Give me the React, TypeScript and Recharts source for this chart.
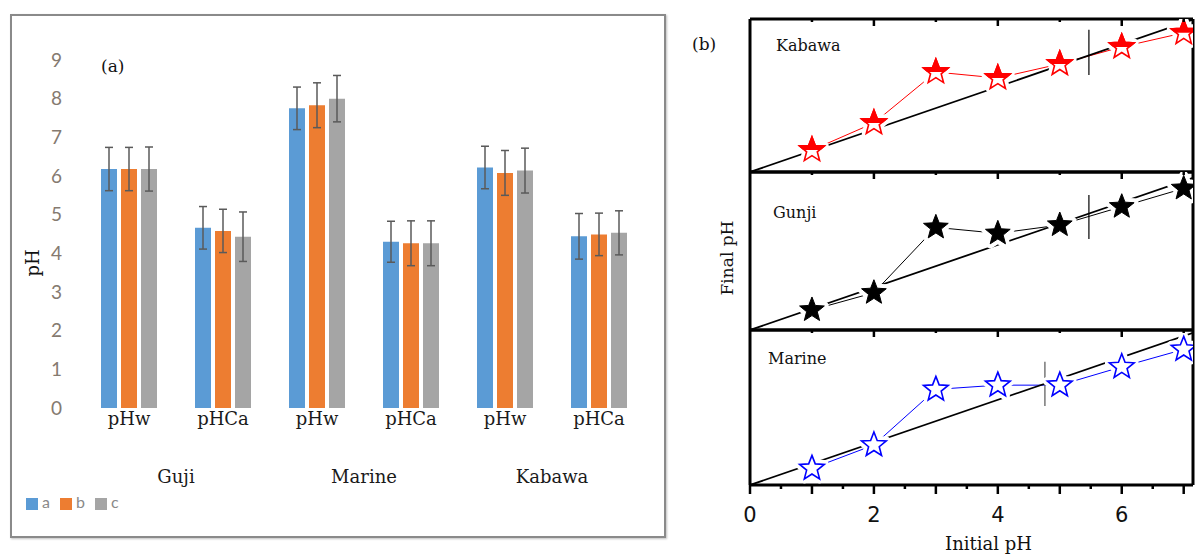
import React from 'react';
import {
  BarChart,
  Bar,
  XAxis,
  YAxis,
  ErrorBar,
  Legend,
  ComposedChart,
  Line,
  ReferenceLine,
} from 'recharts';

// ---------- Panel (a) data ----------
const categories = ['pHw', 'pHCa', 'pHw', 'pHCa', 'pHw', 'pHCa'];
const groupNames = ['Guji', 'Marine', 'Kabawa'];
const valuesA = [6.18, 4.66, 7.75, 4.3, 6.22, 4.44];
const errorsA = [0.56, 0.55, 0.55, 0.53, 0.55, 0.59];
const valuesB = [6.18, 4.58, 7.83, 4.26, 6.08, 4.49];
const errorsB = [0.56, 0.56, 0.58, 0.58, 0.58, 0.55];
const valuesC = [6.18, 4.43, 8.0, 4.26, 6.14, 4.53];
const errorsC = [0.57, 0.64, 0.6, 0.58, 0.58, 0.57];
const yTicksA = [0, 1, 2, 3, 4, 5, 6, 7, 8, 9];
const groupTicks = [0.5, 2.5, 4.5];

// ---------- Panel (b) data ----------
const initialPH = [1, 2, 3, 4, 5, 6, 7];
const kabawaFinal = [1.03, 2.3, 4.69, 4.41, 5.07, 5.87, 6.53];
const gunjiFinal = [0.94, 1.75, 4.82, 4.54, 4.93, 5.79, 6.65];
const marineFinal = [0.78, 1.88, 4.49, 4.69, 4.69, 5.55, 6.37];
const xMaxB = 7.15;
const bottomTicks = [0, 0.5, 1, 1.5, 2, 2.5, 3, 3.5, 4, 4.5, 5, 5.5, 6, 6.5, 7];
const topTicks = [1, 2, 3, 4, 5, 6, 7];

const barData = categories.map((c, i) => ({
  idx: i,
  cat: c,
  a: valuesA[i],
  ea: errorsA[i],
  b: valuesB[i],
  eb: errorsB[i],
  c: valuesC[i],
  ec: errorsC[i],
}));

const BLUE = '#5B9BD5';
const ORANGE = '#ED7D31';
const GRAY = '#A5A5A5';
const SERIF = '"DejaVu Serif", "Liberation Serif", serif';

function starPath(cx: number, cy: number, R: number, r: number) {
  const pts: string[] = [];
  for (let k = 0; k < 10; k++) {
    const ang = ((-90 + k * 36) * Math.PI) / 180;
    const rad = k % 2 === 0 ? R : r;
    pts.push(`${(cx + rad * Math.cos(ang)).toFixed(2)},${(cy + rad * Math.sin(ang)).toFixed(2)}`);
  }
  return `M${pts.join('L')}Z`;
}

const STAR_R = 13;
const STAR_r = 5.6;

function makeDot(kind: 'half' | 'filled' | 'open', color: string, prefix: string) {
  return (props: any) => {
    const { cx, cy, index } = props;
    if (cx == null || cy == null) return <g key={`${prefix}-${index}`} />;
    const d = starPath(cx, cy, STAR_R, STAR_r);
    const clipId = `${prefix}-clip-${index}`;
    return (
      <g key={`${prefix}-${index}`}>
        <path d={d} fill="#fff" stroke="#fff" strokeWidth={9} strokeLinejoin="round" />
        {kind === 'half' && (
          <>
            <defs>
              <clipPath id={clipId}>
                <rect x={cx - STAR_R - 3} y={cy - STAR_R - 3} width={2 * STAR_R + 6} height={STAR_R + 3} />
              </clipPath>
            </defs>
            <path d={d} fill="#fff" stroke={color} strokeWidth={1.6} />
            <path d={d} fill={color} stroke={color} strokeWidth={1.6} clipPath={`url(#${clipId})`} />
          </>
        )}
        {kind === 'filled' && <path d={d} fill={color} stroke={color} strokeWidth={1} />}
        {kind === 'open' && <path d={d} fill="#fff" stroke={color} strokeWidth={1.6} />}
      </g>
    );
  };
}

const BottomTick = (props: any) => {
  const { x, y, payload } = props;
  const v = payload.value as number;
  const major = Number.isInteger(v);
  return (
    <g>
      <line x1={x} x2={x} y1={y} y2={y + (major ? 9 : 4)} stroke="#000" strokeWidth={2.5} />
      {major && v % 2 === 0 && (
        <text
          x={x}
          y={y + 37}
          textAnchor="middle"
          fontSize={21}
          fontFamily='"DejaVu Sans", sans-serif'
          fill="#111"
        >
          {v}
        </text>
      )}
    </g>
  );
};

const TopTick = (props: any) => {
  const { x, y, payload } = props;
  const v = payload.value as number;
  const major = v % 2 === 0;
  return <line x1={x} x2={x} y1={y} y2={y + (major ? 7 : 3)} stroke="#000" strokeWidth={2.5} />;
};

type PanelProps = {
  top: number;
  plotH: number;
  yMax: number;
  values: number[];
  color: string;
  kind: 'half' | 'filled' | 'open';
  refX: number;
  refLow: number;
  refHigh: number;
  refColor: string;
  showBottom: boolean;
  id: string;
};

function Panel(p: PanelProps) {
  const data = initialPH.map((x, i) => ({ x, y: p.values[i] }));
  const diag = [
    { x: 0, y: 0 },
    { x: xMaxB, y: xMaxB },
  ];
  const bottomH = p.showBottom ? 70 : 1;
  const height = 5 + p.plotH + bottomH + (p.showBottom ? 0 : 4);
  const frame = { stroke: '#000', strokeWidth: 3 };
  return (
    <div style={{ position: 'absolute', left: 730, top: p.top - 5 }}>
      <ComposedChart
        width={468}
        height={height}
        margin={{ top: 4, right: 4, bottom: p.showBottom ? 0 : 4, left: 19 }}
      >
        <XAxis
          xAxisId={0}
          dataKey="x"
          type="number"
          domain={[0, xMaxB]}
          allowDataOverflow
          ticks={p.showBottom ? bottomTicks : [1]}
          interval={0}
          height={bottomH}
          tickSize={0}
          tickMargin={0}
          tickLine={false}
          tick={p.showBottom ? <BottomTick /> : false}
          axisLine={frame}
          label={
            p.showBottom
              ? {
                  value: 'Initial pH',
                  position: 'insideBottom',
                  offset: 5,
                  dx: 17,
                  style: { fontFamily: SERIF, fontSize: 18, fill: '#111' },
                }
              : undefined
          }
        />
        <XAxis
          xAxisId="top"
          orientation="top"
          dataKey="x"
          type="number"
          domain={[0, xMaxB]}
          allowDataOverflow
          ticks={topTicks}
          interval={0}
          height={1}
          tickSize={0}
          tickMargin={0}
          tickLine={false}
          tick={<TopTick />}
          axisLine={frame}
        />
        <YAxis
          yAxisId={0}
          type="number"
          domain={[0, p.yMax]}
          allowDataOverflow
          width={1}
          tick={false}
          tickLine={false}
          axisLine={frame}
        />
        <YAxis
          yAxisId="r"
          orientation="right"
          type="number"
          domain={[0, p.yMax]}
          allowDataOverflow
          width={1}
          tick={false}
          tickLine={false}
          axisLine={frame}
        />
        <Line
          data={data}
          dataKey="y"
          stroke={p.color}
          strokeWidth={1}
          dot={makeDot(p.kind, p.color, p.id)}
          activeDot={false}
          isAnimationActive={false}
        />
        <Line
          data={diag}
          dataKey="y"
          stroke="#000"
          strokeWidth={1.8}
          dot={false}
          activeDot={false}
          isAnimationActive={false}
        />
        <ReferenceLine
          segment={[
            { x: p.refX, y: p.refLow },
            { x: p.refX, y: p.refHigh },
          ]}
          stroke={p.refColor}
          strokeWidth={1.2}
        />
      </ComposedChart>
    </div>
  );
}

const abs = (extra: React.CSSProperties): React.CSSProperties => ({
  position: 'absolute',
  whiteSpace: 'nowrap',
  lineHeight: 1,
  ...extra,
});

export default function App() {
  return (
    <div style={{ position: 'absolute', left: 0, top: 0, width: 1196, height: 555, background: '#fff', overflow: 'hidden' }}>
      {/* Panel (a) frame */}
      <div
        style={{
          position: 'absolute',
          left: 10,
          top: 14,
          width: 652,
          height: 520,
          border: '2px solid #8a8a8a',
          boxShadow: '1px 1px 2px rgba(0,0,0,0.25)',
        }}
      />
      <div style={{ position: 'absolute', left: 0, top: 0 }}>
        <BarChart
          width={670}
          height={555}
          data={barData}
          margin={{ top: 60, right: 24, bottom: 62, left: 0 }}
          barSize={16}
          barGap={4}
        >
          <XAxis
            dataKey="idx"
            type="category"
            tickFormatter={(v: number) => categories[v]}
            height={40}
            axisLine={false}
            tickLine={false}
            tickSize={0}
            tickMargin={4}
            interval={0}
            tick={{ fontFamily: SERIF, fontSize: 18, fill: '#1a1a1a' }}
          />
          <XAxis
            xAxisId="g"
            dataKey="idx"
            type="number"
            domain={[-0.5, 5.5]}
            allowDataOverflow
            ticks={groupTicks}
            tickFormatter={(v: number) => groupNames[Math.round((v - 0.5) / 2)]}
            height={45}
            axisLine={false}
            tickLine={false}
            tickSize={0}
            tickMargin={22}
            interval={0}
            tick={{ fontFamily: SERIF, fontSize: 18, fill: '#1a1a1a' }}
          />
          <YAxis
            type="number"
            domain={[0, 9]}
            ticks={yTicksA}
            interval={0}
            width={82}
            axisLine={false}
            tickLine={false}
            tickSize={0}
            tickMargin={20}
            tick={{ fontFamily: 'Lato, sans-serif', fontSize: 19, fill: '#857a70' }}
          />
          <Legend
            layout="horizontal"
            verticalAlign="middle"
            align="center"
            iconType="square"
            iconSize={12}
            wrapperStyle={{ left: 26, top: 492, width: 'auto' }}
            formatter={(v: string) => (
              <span style={{ color: '#8a8a8a', fontSize: 16, fontFamily: 'Lato, sans-serif' }}>{v}</span>
            )}
          />
          <Bar dataKey="a" name="a" fill={BLUE} isAnimationActive={false}>
            <ErrorBar dataKey="ea" width={4} stroke="#5a5a5a" strokeWidth={1.5} />
          </Bar>
          <Bar dataKey="b" name="b" fill={ORANGE} isAnimationActive={false}>
            <ErrorBar dataKey="eb" width={4} stroke="#5a5a5a" strokeWidth={1.5} />
          </Bar>
          <Bar dataKey="c" name="c" fill={GRAY} isAnimationActive={false}>
            <ErrorBar dataKey="ec" width={4} stroke="#5a5a5a" strokeWidth={1.5} />
          </Bar>
        </BarChart>
      </div>
      <div style={abs({ left: 101, top: 58, fontFamily: SERIF, fontSize: 17, color: '#111' })}>(a)</div>
      <div
        style={abs({
          left: 33,
          top: 263,
          transform: 'translate(-50%, -50%) rotate(-90deg)',
          fontFamily: SERIF,
          fontSize: 18,
          color: '#111',
        })}
      >
        pH
      </div>

      {/* Panel (b) */}
      <Panel
        id="kab"
        top={19}
        plotH={153}
        yMax={7.18}
        values={kabawaFinal}
        color="#ff0000"
        kind="half"
        refX={5.47}
        refLow={4.55}
        refHigh={6.67}
        refColor="#000"
        showBottom={false}
      />
      <Panel
        id="gun"
        top={172}
        plotH={158}
        yMax={7.42}
        values={gunjiFinal}
        color="#000000"
        kind="filled"
        refX={5.47}
        refLow={4.27}
        refHigh={6.34}
        refColor="#000"
        showBottom={false}
      />
      <Panel
        id="mar"
        top={330}
        plotH={155}
        yMax={7.28}
        values={marineFinal}
        color="#0000ff"
        kind="open"
        refX={4.76}
        refLow={3.71}
        refHigh={5.79}
        refColor="#555"
        showBottom={true}
      />
      <div style={abs({ left: 692, top: 36, fontFamily: SERIF, fontSize: 17, color: '#111' })}>(b)</div>
      <div style={abs({ left: 776, top: 38, fontFamily: SERIF, fontSize: 16, color: '#111' })}>Kabawa</div>
      <div style={abs({ left: 773, top: 205, fontFamily: SERIF, fontSize: 16, color: '#111' })}>Gunji</div>
      <div style={abs({ left: 768, top: 351, fontFamily: SERIF, fontSize: 16, color: '#111' })}>Marine</div>
      <div
        style={abs({
          left: 727,
          top: 258,
          transform: 'translate(-50%, -50%) rotate(-90deg)',
          fontFamily: SERIF,
          fontSize: 17,
          color: '#111',
        })}
      >
        Final pH
      </div>
    </div>
  );
}
